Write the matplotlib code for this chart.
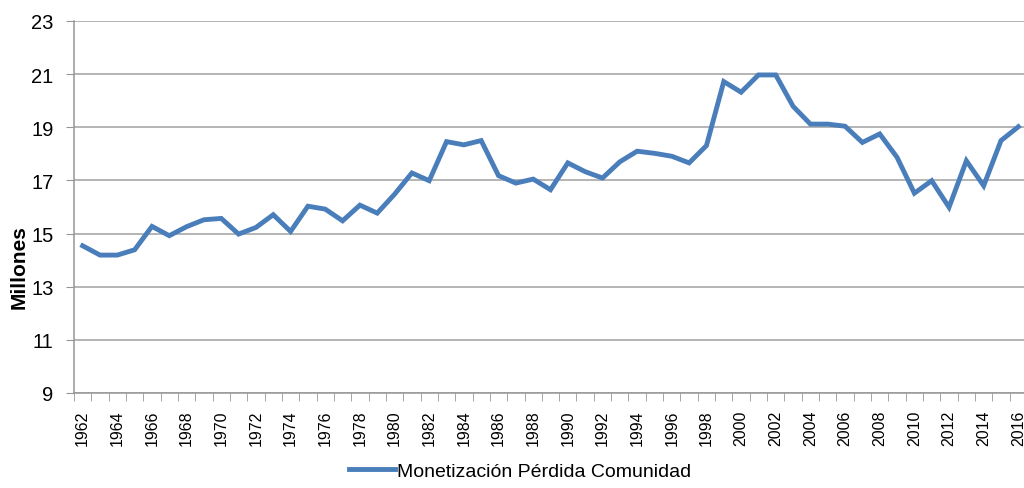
import matplotlib
matplotlib.use("Agg")
import matplotlib.pyplot as plt
from matplotlib.ticker import FixedLocator

years = list(range(1962, 2017))
values = [14.54, 14.19, 14.19, 14.39, 15.27, 14.92, 15.26, 15.52, 15.57, 14.98,
          15.23, 15.71, 15.08, 16.03, 15.92, 15.48, 16.07, 15.77, 16.48, 17.28,
          16.99, 18.46, 18.34, 18.50, 17.18, 16.90, 17.05, 16.65, 17.66, 17.33,
          17.09, 17.70, 18.10, 18.02, 17.91, 17.66, 18.31, 20.72, 20.32, 20.97,
          20.97, 19.79, 19.12, 19.12, 19.04, 18.43, 18.75, 17.87, 16.52, 16.99,
          15.99, 17.74, 16.80, 18.50, 19.02]
yticks = [9, 11, 13, 15, 17, 19, 21, 23]
series_name = "Monetización Pérdida Comunidad"
ylabel = "Millones"

plt.rcParams['font.family'] = ['Liberation Sans', 'DejaVu Sans']

fig = plt.figure(figsize=(10.24, 4.89), dpi=100)
ax = fig.add_axes([74/1024, 1-394/489, (1027-74)/1024, (394-22)/489])

ax.plot(years, values, color='#4A7EBB', lw=3.5, solid_joinstyle='miter',
        label=series_name)

ax.set_xlim(years[0]-0.5, years[-1]+0.5)
ax.set_ylim(9, 23)
ax.set_yticks(yticks)
ax.tick_params(axis='y', labelsize=14.5, length=5.8, color='#969696', pad=9)
ax.yaxis.grid(True, color='#A0A0A0', lw=1.1)
ax.set_axisbelow(True)

even = [y for y in years if y % 2 == 0]
ax.xaxis.set_major_locator(FixedLocator(even))
ax.set_xticklabels([str(y) for y in even], rotation=90)
ax.xaxis.set_minor_locator(FixedLocator([y-0.5 for y in years] + [years[-1]+0.5]))
ax.tick_params(axis='x', which='major', length=0, labelsize=11.5, pad=12)
ax.tick_params(axis='x', which='minor', length=5.5, color='#969696')

for s in ['top', 'right']:
    ax.spines[s].set_visible(False)
for s in ['left', 'bottom']:
    ax.spines[s].set_color('#969696')
    ax.spines[s].set_linewidth(1.1)

ax.set_ylabel(ylabel, fontsize=15, fontweight='bold')
ax.yaxis.set_label_coords((29-74)/(1027-74), (394-267)/(394-22))

fig.legend(loc='center', bbox_to_anchor=(520/1024, 1-472/489), frameon=False,
           fontsize=14, handlelength=2.4, handletextpad=0.1)

fig.savefig('out.png', dpi=100)
